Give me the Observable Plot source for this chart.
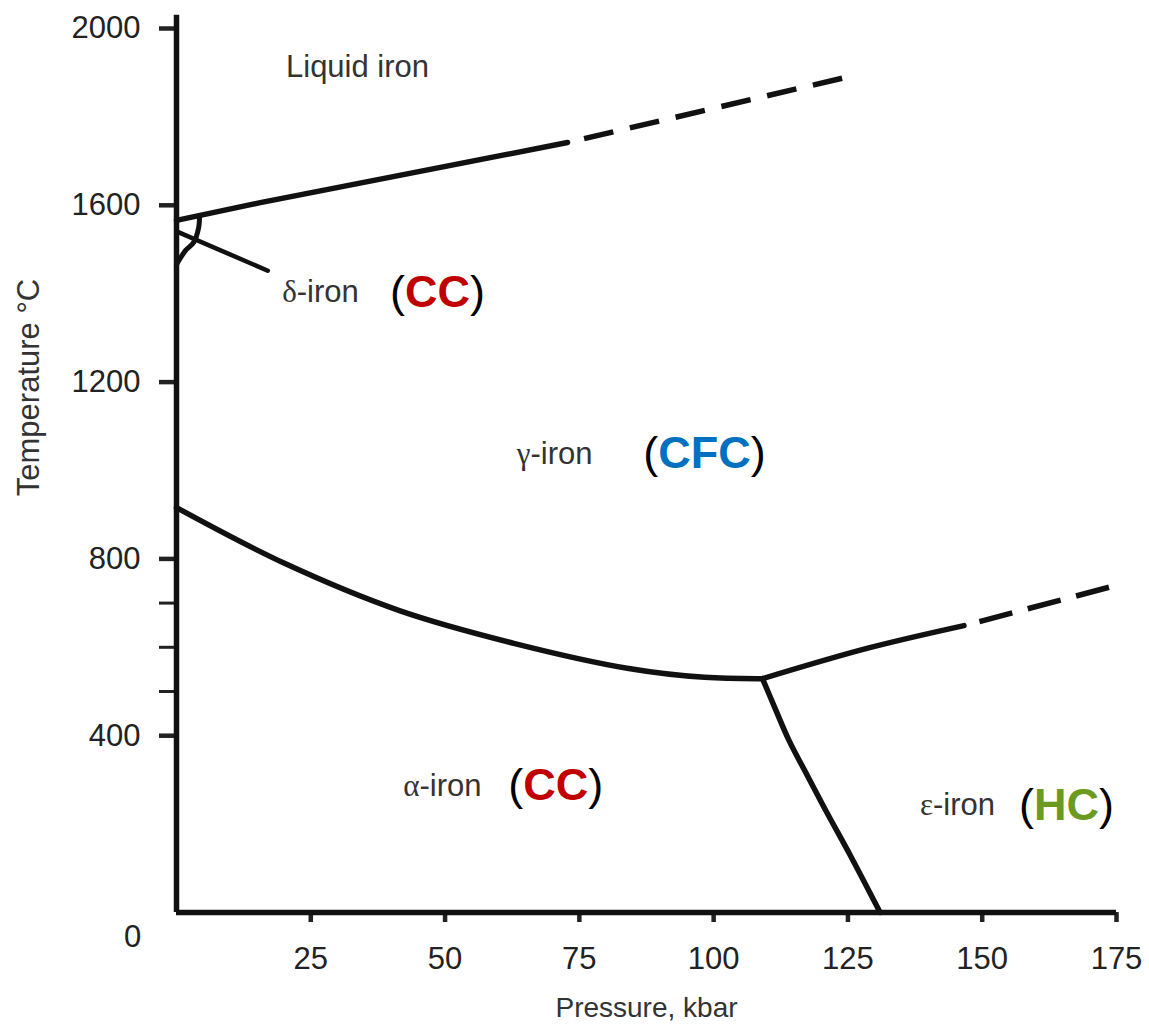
<!DOCTYPE html>
<html><head><meta charset="utf-8">
<script src="https://cdn.jsdelivr.net/npm/d3@7"></script>
<script src="https://cdn.jsdelivr.net/npm/@observablehq/plot@0.6"></script>
<style>body{margin:0;background:#fff;}</style>
</head><body><div id="chart"></div>
<script>
// ---- data (pressure kbar, temperature °C) ----
const xTicks = [25, 50, 75, 100, 125, 150, 175];
const yTicks = [400, 800, 1200, 1600, 2000];
const yMinorTicks = [500, 600, 700];
const yAxisTop = 2030;

const meltingSolidP = [0, 15.6, 72.8];
const meltingSolidT = [1566, 1606, 1742];
const meltingDashP = [72.8, 125.5];
const meltingDashT = [1742, 1892];

const alphaGammaP = [0, 20.1, 41.5, 62.8, 84.2, 98.3, 109.1];
const alphaGammaT = [916, 790, 683, 609, 552, 532, 529];

const gammaEpsSolidP = [109.1, 128.7, 146.6];
const gammaEpsSolidT = [529, 598, 649];
const gammaEpsDashP = [146.6, 174.9];
const gammaEpsDashT = [649, 740];

const alphaEpsP = [109.1, 111.5, 114, 117, 121, 125.5, 131];
const alphaEpsT = [529, 460, 390, 320, 228, 128, 0];

const deltaGammaP = [0, 1.7, 3.2, 4.1, 4.3];
const deltaGammaT = [1466, 1498, 1516, 1548, 1577];

const deltaPointerP = [0, 17];
const deltaPointerT = [1541, 1452];

const regionNames = ["Liquid iron", "δ-iron", "γ-iron", "α-iron", "ε-iron"];
const regionP = [33.7, 26.8, 70.4, 49.5, 145.4];
const regionT = [1912, 1403, 1038, 287, 242];

const structNames = ["CC", "CFC", "CC", "HC"];
const structP = [48.6, 98.3, 70.6, 165.7];
const structT = [1403, 1038, 287, 242];
const structColors = {CC: "#c00000", CFC: "#0070c0", HC: "#6b9a1e"};

// ---- tables ----
const pts = (P, T) => P.map((p, i) => ({P: p, T: T[i]}));
const regions = regionNames.map((n, i) => ({label: n, P: regionP[i], T: regionT[i]}));
const structs = structNames.map((n, i) => ({label: "(" + n + ")", name: n, P: structP[i], T: structT[i]}));

const lineStyle = {x: "P", y: "T", stroke: "#111", strokeWidth: 5.5, strokeLinecap: "round", strokeLinejoin: "round"};

const chart = Plot.plot({
  width: 1149, height: 1029,
  marginLeft: 176, marginRight: 33, marginTop: 28, marginBottom: 117,
  style: {fontFamily: "'Liberation Sans', Arial, sans-serif", fontSize: "31px", color: "#222", background: "#fff"},
  x: {domain: [0, 175]},
  y: {domain: [0, 2000]},
  marks: [
    Plot.axisX({ticks: xTicks, tickSize: 10, tickPadding: 24, label: null, strokeWidth: 4.5, fontSize: 31, fill: "#222"}),
    Plot.axisY({ticks: yTicks, tickSize: 17, tickPadding: 19, tickFormat: d => String(d), label: null, strokeWidth: 4.5, fontSize: 31, fill: "#222"}),
    Plot.axisY({ticks: yMinorTicks, tickSize: 17, tickFormat: () => "", label: null, strokeWidth: 3}),
    Plot.ruleX([0], {y1: 0, y2: yAxisTop, stroke: "#111", strokeWidth: 5.5}),
    Plot.ruleY([0], {x1: 0, x2: 175, stroke: "#111", strokeWidth: 5.5}),
    Plot.text(["0"], {frameAnchor: "bottom-left", textAnchor: "middle", lineAnchor: "middle", dx: -44, dy: 25, fontSize: 31, fill: "#222"}),
    Plot.line(pts(meltingSolidP, meltingSolidT), lineStyle),
    Plot.line(pts(meltingDashP, meltingDashT), {...lineStyle, strokeDasharray: "30,17", strokeDashoffset: 30, strokeLinecap: "butt"}),
    Plot.line(pts(alphaGammaP, alphaGammaT), {...lineStyle, curve: "catmull-rom"}),
    Plot.line(pts(gammaEpsSolidP, gammaEpsSolidT), {...lineStyle, curve: "catmull-rom"}),
    Plot.line(pts(gammaEpsDashP, gammaEpsDashT), {...lineStyle, strokeDasharray: "34,16", strokeDashoffset: 34, strokeLinecap: "butt"}),
    Plot.line(pts(alphaEpsP, alphaEpsT), {...lineStyle, curve: "catmull-rom"}),
    Plot.line(pts(deltaGammaP, deltaGammaT), {...lineStyle, strokeWidth: 5, curve: "catmull-rom"}),
    Plot.line(pts(deltaPointerP, deltaPointerT), {...lineStyle, strokeWidth: 4.5}),
    Plot.text(regions, {x: "P", y: "T", text: "label", fontSize: 31, fill: "#333", className: "region"}),
    Plot.text(structs, {x: "P", y: "T", text: "label", fontSize: 45, fontWeight: "bold", fill: "#000", className: "struct"}),
    Plot.text(["Pressure, kbar"], {frameAnchor: "bottom", textAnchor: "middle", lineAnchor: "middle", dy: 96, fontSize: 28, fill: "#333"}),
    Plot.text(["Temperature °C"], {frameAnchor: "left", textAnchor: "middle", lineAnchor: "middle", dx: -147, dy: -83, rotate: -90, fontSize: 31, fill: "#333"})
  ]
});

document.getElementById("chart").appendChild(chart);

// colour the structure abbreviations, keep parentheses black
d3.select(chart).selectAll("g.struct text").each(function () {
  const t = d3.select(this);
  const s = t.text();
  const name = s.slice(1, -1);
  t.text(null);
  t.append("tspan").attr("font-weight", "normal").text("(");
  t.append("tspan").attr("fill", structColors[name]).text(name);
  t.append("tspan").attr("font-weight", "normal").text(")");
});
// greek letters in a serif face
d3.select(chart).selectAll("g.region text").each(function () {
  const t = d3.select(this);
  const s = t.text();
  if (/^[αβγδε]/.test(s)) {
    t.text(null);
    t.append("tspan").attr("font-family", "'Liberation Serif', serif").text(s[0]);
    t.append("tspan").text(s.slice(1));
  }
});
</script>
</body></html>
